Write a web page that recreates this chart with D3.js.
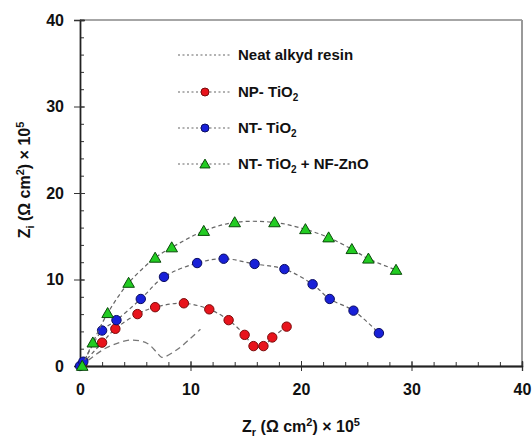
<!DOCTYPE html>
<html><head><meta charset="utf-8">
<script src="https://cdn.jsdelivr.net/npm/d3@7"></script>
<style>body{margin:0;background:#fff;} text{font-family:"Liberation Sans",Arial,sans-serif;font-weight:bold;}</style>
</head><body>
<svg id="c" width="532" height="438"></svg>
<script>
// Data (Zr, Zi) in (Ω cm²)×10^5
const seriesNames = ["Neat alkyd resin", "NP- TiO2", "NT- TiO2", "NT- TiO2 + NF-ZnO"];
const neatX = [0, 1, 2.1, 3.3, 4.7, 6.1, 7.0, 7.4, 8.8, 10.0, 10.9];
const neatY = [0, 0.9, 1.9, 2.6, 3.0, 2.6, 1.5, 1.0, 1.9, 3.2, 4.25];
const npX = [0.2, 2.0, 3.2, 5.2, 6.8, 9.4, 11.7, 13.45, 14.9, 15.7, 16.6, 17.4, 18.7];
const npY = [0.2, 2.7, 4.3, 6.0, 6.8, 7.25, 6.55, 5.3, 3.6, 2.3, 2.3, 3.3, 4.55];
const ntX = [0.0, 0.3, 2.0, 3.3, 5.5, 7.6, 10.6, 13.0, 15.8, 18.5, 21.05, 22.6, 24.75, 27.05];
const ntY = [0.0, 0.5, 4.1, 5.3, 7.75, 10.3, 11.9, 12.4, 11.8, 11.2, 9.45, 7.75, 6.4, 3.8];
const znX = [0.2, 1.16, 2.5, 4.4, 6.8, 8.3, 11.2, 14.0, 17.6, 20.4, 22.5, 24.6, 26.1, 28.6];
const znY = [0.0, 2.7, 6.1, 9.6, 12.5, 13.7, 15.6, 16.6, 16.6, 15.8, 14.85, 13.5, 12.4, 11.1];
const xTicks = [0, 10, 20, 30, 40];
const yTicks = [0, 10, 20, 30, 40];

const svg = d3.select("#c");
const L = 80, R = 522, T = 20, B = 366;
const x = d3.scaleLinear().domain([0, 40]).range([L, R]);
const y = d3.scaleLinear().domain([0, 40]).range([B, T]);

// frame
svg.append("line").attr("x1", L).attr("x2", R).attr("y1", T).attr("y2", T).attr("stroke", "#888").attr("stroke-width", 1.3);
svg.append("line").attr("x1", R).attr("x2", R).attr("y1", T).attr("y2", B).attr("stroke", "#999").attr("stroke-width", 2);

// axes
const xMinor = d3.range(0, 41, 2);
const yMinor = d3.range(0, 41, 2);
const gx = svg.append("g").attr("transform", `translate(0,${B})`);
gx.call(d3.axisTop(x).tickValues(xMinor).tickSize(4).tickFormat(""));
gx.append("g").call(d3.axisBottom(x).tickValues(xTicks).tickSize(5).tickPadding(13).tickFormat(d3.format("d")));
gx.append("g").call(d3.axisTop(x).tickValues(xTicks).tickSize(5).tickFormat(""));
const gy = svg.append("g").attr("transform", `translate(${L},0)`);
gy.call(d3.axisRight(y).tickValues(yMinor).tickSize(4).tickFormat(""));
gy.append("g").call(d3.axisLeft(y).tickValues(yTicks).tickSize(6).tickPadding(10).tickFormat(d3.format("d")));
gy.append("g").call(d3.axisRight(y).tickValues(yTicks).tickSize(5).tickFormat(""));
svg.selectAll(".domain").attr("stroke", "#222").attr("stroke-width", 1.3);
svg.selectAll(".tick line").attr("stroke", "#333");
svg.selectAll(".tick text").attr("font-size", 16).attr("fill", "#111").style("font-weight", "bold");

const line = d3.line().x(d => x(d[0])).y(d => y(d[1])).curve(d3.curveCatmullRom.alpha(0.5));
const zip = (a, b) => a.map((v, i) => [v, b[i]]);

svg.append("path").datum(zip(neatX, neatY)).attr("d", line).attr("fill", "none")
  .attr("stroke", "#777").attr("stroke-width", 1.3).attr("stroke-dasharray", "6,4");

const defs = [
  {xs: npX, ys: npY, fill: "#e8141c", stroke: "#7a0a0a", shape: "circle"},
  {xs: ntX, ys: ntY, fill: "#1820d8", stroke: "#0a0c60", shape: "circle"},
  {xs: znX, ys: znY, fill: "#22cc22", stroke: "#0a4a0a", shape: "triangle"}
];
const tri = d3.symbol().type(d3.symbolTriangle).size(58);
defs.forEach(s => {
  const pts = zip(s.xs, s.ys);
  svg.append("path").datum(pts).attr("d", line).attr("fill", "none")
    .attr("stroke", "#666").attr("stroke-width", 1.2).attr("stroke-dasharray", "4,3");
  const g = svg.append("g");
  if (s.shape === "circle") {
    g.selectAll("circle").data(pts).join("circle").attr("cx", d => x(d[0])).attr("cy", d => y(d[1]))
      .attr("r", 4.7).attr("fill", s.fill).attr("stroke", s.stroke).attr("stroke-width", 1);
  } else {
    g.selectAll("path").data(pts).join("path").attr("d", tri)
      .attr("transform", d => `translate(${x(d[0])},${y(d[1]) + 1})`)
      .attr("fill", s.fill).attr("stroke", s.stroke).attr("stroke-width", 1);
  }
});

// legend
const legY = [55, 92, 128, 164];
const lg = svg.append("g");
seriesNames.forEach((n, i) => {
  const yy = legY[i];
  lg.append("line").attr("x1", 178).attr("x2", 232).attr("y1", yy).attr("y2", yy)
    .attr("stroke", "#666").attr("stroke-width", 1.2).attr("stroke-dasharray", "2,2.5");
  if (i === 1 || i === 2) {
    lg.append("circle").attr("cx", 205).attr("cy", yy).attr("r", 4).attr("fill", defs[i - 1].fill).attr("stroke", defs[i - 1].stroke);
  } else if (i === 3) {
    lg.append("path").attr("d", d3.symbol().type(d3.symbolTriangle).size(45)).attr("transform", `translate(205,${yy + 1})`)
      .attr("fill", defs[2].fill).attr("stroke", defs[2].stroke);
  }
  const t = lg.append("text").attr("x", 238).attr("y", yy + 5).attr("font-size", 15).attr("fill", "#111");
  if (n.includes("TiO2")) {
    const parts = n.split("TiO2");
    t.append("tspan").text(parts[0] + "TiO");
    t.append("tspan").text("2").attr("font-size", 10).attr("dy", 4);
    if (parts[1]) t.append("tspan").text(parts[1]).attr("dy", -4);
  } else t.text(n);
});

// axis titles
const xt = svg.append("text").attr("x", 301).attr("y", 432).attr("text-anchor", "middle").attr("font-size", 16).attr("fill", "#111");
xt.append("tspan").text("Z");
xt.append("tspan").text("r").attr("font-size", 11).attr("dy", 4);
xt.append("tspan").text(" (Ω cm").attr("dy", -4);
xt.append("tspan").text("2").attr("font-size", 11).attr("dy", -6);
xt.append("tspan").text(") × 10").attr("dy", 6);
xt.append("tspan").text("5").attr("font-size", 11).attr("dy", -6);

const yt = svg.append("text").attr("transform", "translate(30,180) rotate(-90)").attr("text-anchor", "middle").attr("font-size", 16).attr("fill", "#111");
yt.append("tspan").text("Z");
yt.append("tspan").text("i").attr("font-size", 11).attr("dy", 4);
yt.append("tspan").text(" (Ω cm").attr("dy", -4);
yt.append("tspan").text("2").attr("font-size", 11).attr("dy", -6);
yt.append("tspan").text(") × 10").attr("dy", 6);
yt.append("tspan").text("5").attr("font-size", 11).attr("dy", -6);
</script>
</body></html>
